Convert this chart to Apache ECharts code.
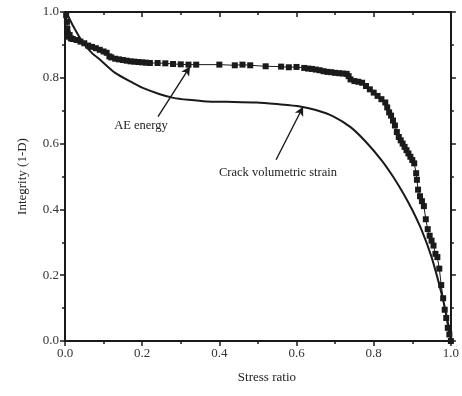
<!DOCTYPE html>
<html>
<head>
<meta charset="utf-8">
<script src="https://cdn.jsdelivr.net/npm/echarts@6/dist/echarts.min.js"></script>
<style>
  html, body { margin: 0; padding: 0; background: #fff; }
  #chart { width: 462px; height: 396px; }
</style>
</head>
<body>
<div id="chart"></div>
<script>
// AE energy: [stress ratio, integrity]
const aeEnergy = [
  [0.003, 0.99], [0.005, 0.97], [0.006, 0.95], [0.007, 0.935], [0.009, 0.925],
  [0.012, 0.93], [0.015, 0.92], [0.02, 0.918], [0.03, 0.915], [0.04, 0.91],
  [0.05, 0.905], [0.06, 0.898], [0.07, 0.894], [0.08, 0.89], [0.09, 0.885],
  [0.1, 0.88], [0.108, 0.876], [0.115, 0.865], [0.12, 0.862], [0.13, 0.858],
  [0.14, 0.856], [0.15, 0.854], [0.16, 0.852], [0.17, 0.85], [0.18, 0.849],
  [0.19, 0.848], [0.2, 0.847], [0.21, 0.846], [0.22, 0.845], [0.24, 0.845],
  [0.26, 0.844], [0.28, 0.842], [0.3, 0.841], [0.32, 0.84], [0.34, 0.84],
  [0.4, 0.84], [0.44, 0.838], [0.46, 0.84], [0.48, 0.838], [0.52, 0.835],
  [0.56, 0.834], [0.58, 0.832], [0.6, 0.833], [0.62, 0.83], [0.63, 0.828],
  [0.64, 0.827], [0.65, 0.825], [0.66, 0.823], [0.67, 0.82], [0.68, 0.818],
  [0.69, 0.817], [0.7, 0.815], [0.71, 0.814], [0.72, 0.813], [0.73, 0.812],
  [0.735, 0.805], [0.74, 0.795], [0.75, 0.79], [0.76, 0.788], [0.77, 0.785],
  [0.78, 0.775], [0.79, 0.765], [0.8, 0.755], [0.81, 0.745], [0.82, 0.735],
  [0.83, 0.725], [0.835, 0.71], [0.84, 0.695], [0.845, 0.685], [0.85, 0.67],
  [0.855, 0.655], [0.86, 0.635], [0.865, 0.62], [0.87, 0.61], [0.875, 0.6],
  [0.88, 0.59], [0.885, 0.58], [0.89, 0.57], [0.895, 0.56], [0.9, 0.55],
  [0.905, 0.54], [0.91, 0.51], [0.912, 0.49], [0.915, 0.46], [0.92, 0.44],
  [0.925, 0.425], [0.93, 0.41], [0.935, 0.37], [0.94, 0.34], [0.945, 0.32],
  [0.95, 0.305], [0.955, 0.29], [0.96, 0.265], [0.965, 0.255], [0.97, 0.22],
  [0.975, 0.17], [0.98, 0.13], [0.984, 0.095], [0.988, 0.07], [0.992, 0.04],
  [0.996, 0.02], [1.0, 0.0]
]

// crack volumetric strain: [stress ratio, integrity]
const crackStrain = [
  [0.003, 1.0], [0.02, 0.96], [0.047, 0.906], [0.07, 0.875], [0.091, 0.855],
  [0.13, 0.815], [0.177, 0.784], [0.2, 0.77], [0.246, 0.75], [0.281, 0.739],
  [0.32, 0.733], [0.367, 0.728], [0.42, 0.727], [0.497, 0.725], [0.55, 0.72],
  [0.609, 0.713], [0.65, 0.702], [0.695, 0.683], [0.74, 0.65], [0.78, 0.605],
  [0.82, 0.55], [0.85, 0.5], [0.875, 0.452], [0.9, 0.398], [0.925, 0.335],
  [0.95, 0.255], [0.975, 0.148], [0.99, 0.07], [1.0, 0.005]
]

// annotations: label text, label anchor, arrow tail, arrow head (data coords)
const notes = [
  { text: 'AE energy', at: [0.197, 0.654], from: [0.241, 0.682], to: [0.324, 0.834] },
  { text: 'Crack volumetric strain', at: [0.552, 0.511], from: [0.547, 0.551], to: [0.617, 0.712] }
]

const INK = '#1a1a1a'
const FONT = '"Liberation Serif", "DejaVu Serif", serif'

const chart = echarts.init(document.getElementById('chart'))

const axisBase = (pos, inside) => ({
  min: 0,
  max: 1,
  interval: 0.2,
  position: pos,
  axisLine: { onZero: false, lineStyle: { color: INK, width: 2 } },
  axisTick: { show: true, inside, length: 5, lineStyle: { color: INK, width: 1.5 } },
  minorTick: { show: true, splitNumber: 2, length: 3, lineStyle: { color: INK, width: 1.5 } },
  splitLine: { show: false },
  axisLabel: { show: false }
})

const tickLabel = {
  show: true,
  color: '#333',
  fontFamily: FONT,
  fontSize: 13,
  formatter: (v) => v.toFixed(1)
}

chart.setOption({
  animation: false,
  grid: { left: 65, right: 11, top: 12, bottom: 55 },
  xAxis: [
    {
      type: 'value',
      ...axisBase('bottom', false),
      axisLabel: { ...tickLabel, margin: 6 },
      name: 'Stress ratio',
      nameLocation: 'middle',
      nameGap: 30,
      nameTextStyle: { color: '#222', fontFamily: FONT, fontSize: 13, padding: [0, 0, 0, 18] }
    },
    { type: 'value', ...axisBase('top', true) }
  ],
  yAxis: [
    {
      type: 'value',
      ...axisBase('left', false),
      axisLabel: { ...tickLabel, margin: 6 },
      name: 'Integrity (1-D)',
      nameLocation: 'middle',
      nameGap: 36,
      nameTextStyle: { color: '#222', fontFamily: FONT, fontSize: 13 }
    },
    { type: 'value', ...axisBase('right', false) }
  ],
  series: [
    {
      name: 'Crack volumetric strain',
      type: 'line',
      data: crackStrain,
      smooth: 0.25,
      showSymbol: false,
      lineStyle: { color: INK, width: 2 },
      z: 2,
      markLine: {
        silent: true,
        symbol: ['none', 'arrow'],
        symbolSize: [7, 9],
        label: { show: false },
        lineStyle: { color: INK, width: 1.4, type: 'solid' },
        data: notes.map((n) => [{ coord: n.from }, { coord: n.to }])
      }
    },
    {
      name: 'AE energy',
      type: 'line',
      data: aeEnergy,
      symbol: 'rect',
      symbolSize: 6,
      showAllSymbol: true,
      itemStyle: { color: INK },
      lineStyle: { color: INK, width: 1 },
      z: 3
    }
  ]
})

chart.setOption({
  graphic: notes.map((n) => {
    const [px, py] = chart.convertToPixel({ gridIndex: 0 }, n.at)
    return {
      type: 'text',
      x: px,
      y: py,
      style: {
        text: n.text,
        fill: '#222',
        font: '12.5px ' + FONT,
        align: 'center',
        verticalAlign: 'middle'
      }
    }
  })
})
</script>
</body>
</html>
